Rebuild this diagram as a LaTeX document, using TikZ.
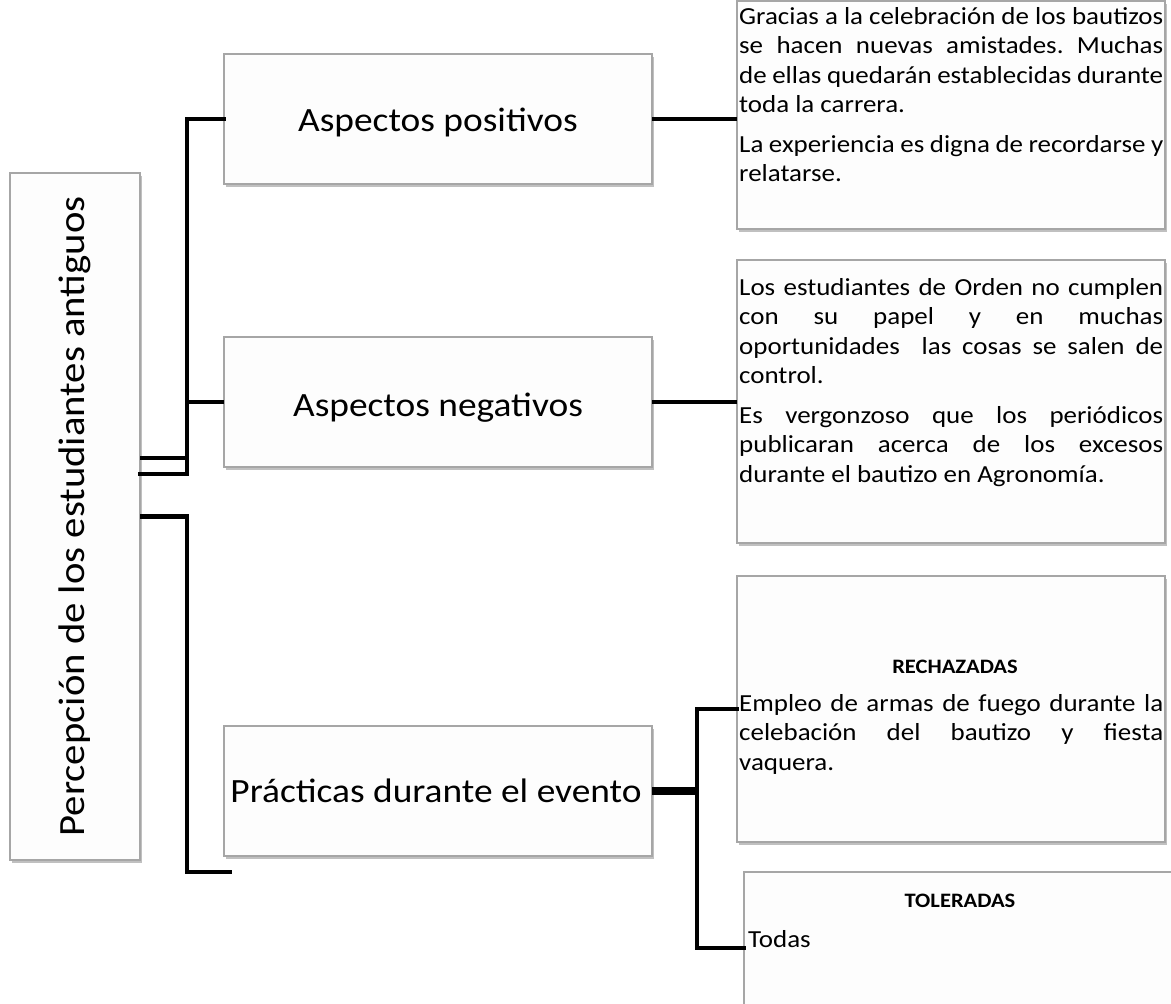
\documentclass[tikz,border=0pt]{standalone}
\usepackage{fontspec}
\setmainfont[FakeStretch=1.1]{Carlito}
\usetikzlibrary{shadows,calc}
\definecolor{boxgray}{HTML}{A6A6A6}
\definecolor{boxfill}{HTML}{FDFDFD}
\frenchspacing
\newcommand{\jl}[1]{\makebox[424pt][s]{#1}}
\newcommand{\bodyfnt}{\fontsize{24.5}{29.5}\selectfont}
\newcommand{\labfnt}{\fontsize{34}{40}\selectfont}
\begin{document}
\begin{tikzpicture}[x=1pt,y=-1pt,
  panel/.style={draw=boxgray, line width=1.3pt, fill=boxfill, rectangle, inner sep=0pt, outer sep=0pt,
    drop shadow={shadow xshift=2pt, shadow yshift=-2.5pt, opacity=0.35, fill=black!70}},
  lab/.style={font=\labfnt, inner sep=0pt},
  txt/.style={font=\bodyfnt, align=left, inner sep=0pt, anchor=north west},
  head/.style={font=\fontsize{20.5}{24}\selectfont\bfseries, inner sep=0pt},
  conn/.style={line width=4.5pt, black},
  thick conn/.style={line width=8pt, black}]
\fill[white] (0,0) rectangle (1171,1004);
\useasboundingbox (0,0) rectangle (1171,1004);

% boxes
\node[panel, minimum width=130, minimum height=687] (L) at (75,516.5) {};
\node[panel, minimum width=428, minimum height=130] (P) at (438,119) {};
\node[panel, minimum width=428, minimum height=130] (N) at (438,402) {};
\node[panel, minimum width=428, minimum height=130] (Pr) at (438,791) {};
\node[panel, minimum width=428, minimum height=228] (R1) at (951,115) {};
\node[panel, minimum width=428, minimum height=283] (R2) at (951,401.5) {};
\node[panel, minimum width=428, minimum height=266] (R3) at (951,709) {};
\node[panel, minimum width=436, minimum height=160] (R4) at (962,952) {};

% labels
\node[lab, rotate=90, font=\fontsize{37}{42}\selectfont] (Lt) at (L.center) {Percepción de los estudiantes antiguos};
\node[lab] (Pt) at ($(P.center)+(0,3)$) {Aspectos positivos};
\node[lab] (Nt) at ($(N.center)+(0,6)$) {Aspectos negativos};
\node[lab] (Prt) at ($(Pr.center)+(-2,0)$) {Prácticas durante el evento};

\node[txt] (R1t) at ($(R1.north west)+(2,6)$) {%
\jl{Gracias a la celebración de los bautizos}\\
\jl{se hacen nuevas amistades. Muchas}\\
\jl{de ellas quedarán establecidas durante}\\
toda la carrera.\\[10pt]
\jl{La experiencia es digna de recordarse y}\\
relatarse.};

\node[txt] (R2t) at ($(R2.north west)+(2,18)$) {%
\jl{Los estudiantes de Orden no cumplen}\\
\jl{con su papel y en muchas}\\
\jl{oportunidades\ \ las cosas se salen de}\\
control.\\[10pt]
\jl{Es vergonzoso que los periódicos}\\
\jl{publicaran acerca de los excesos}\\
durante el bautizo en Agronomía.};

\node[head] (R3h) at ($(R3.north)+(4,91)$) {RECHAZADAS};
\node[txt] (R3t) at ($(R3.north west)+(2,118)$) {%
\jl{Empleo de armas de fuego durante la}\\
\jl{celebación del bautizo y fiesta}\\
vaquera.};

\node[head] (R4h) at ($(R4.north)+(-2,29)$) {TOLERADAS};
\node[txt] (R4t) at ($(R4.north west)+(4,58)$) {Todas};

% connector junctions
\coordinate (ja) at (187,474);
\coordinate (jb) at (187,458);
\coordinate (jc) at (187,872);
\coordinate (endc) at (232,872);
\coordinate (jd) at (697,948);
\coordinate (jt) at (697,709);
\coordinate (je) at (744,948);

\draw[conn, line cap=rect] (L.east |- ja) -- (ja) -- (ja |- P.west) -- (P.west);
\draw[conn] (L.east |- jb) -- (jb);
\draw[conn] (ja |- N.west) -- (N.west);
\draw[conn] (L.east) -| (jc) -- (endc);

\draw[conn] (P.east) -- (P.east -| R1.west);
\draw[conn] (N.east) -- (N.east -| R2.west);

\draw[thick conn] (Pr.east) -- (Pr.east -| jt);
\draw[conn, line cap=rect] (R3.west) -- (jt) -- (jd) -- (je);
\end{tikzpicture}
\end{document}
